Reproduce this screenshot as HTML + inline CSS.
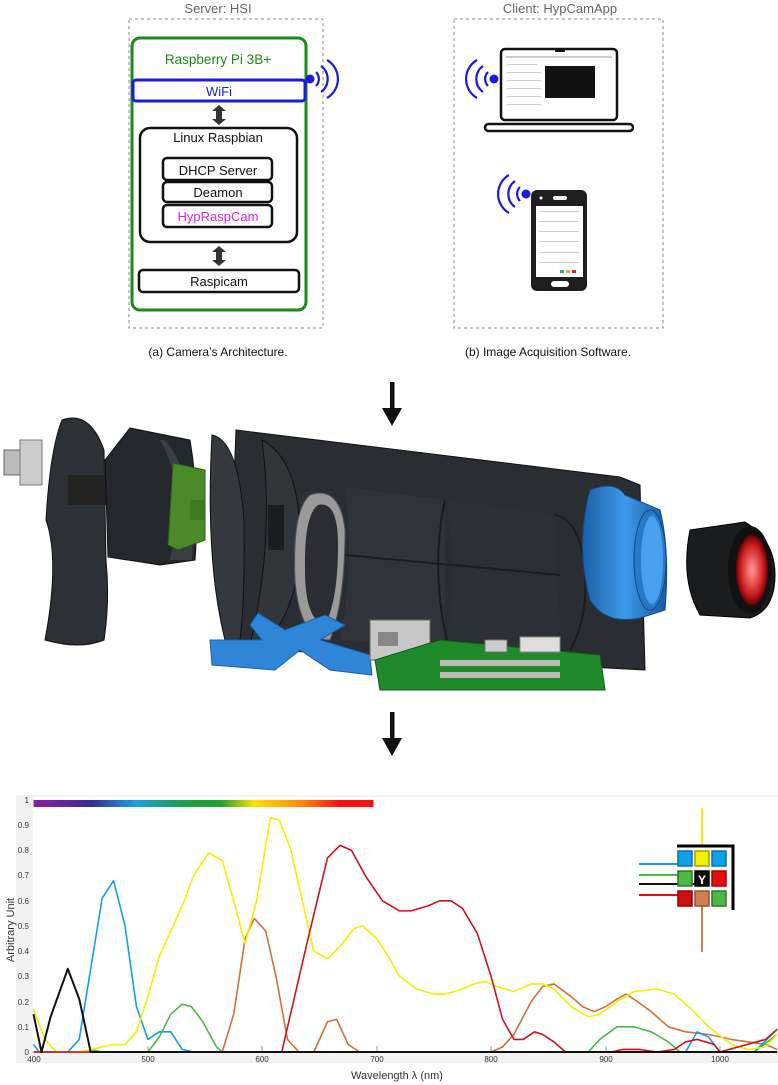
<!DOCTYPE html>
<html><head><meta charset="utf-8"><style>
html,body{margin:0;padding:0;background:#fff;}
svg{display:block;font-family:"Liberation Sans","DejaVu Sans",sans-serif;}
</style></head><body>
<svg width="778" height="1085" viewBox="0 0 778 1085" xmlns="http://www.w3.org/2000/svg">
<defs>
<linearGradient id="spec" x1="0" x2="1" y1="0" y2="0">
<stop offset="0" stop-color="#8a1fa0"/><stop offset="0.17" stop-color="#3a2a9a"/><stop offset="0.3" stop-color="#1aa0e0"/><stop offset="0.45" stop-color="#1aa040"/><stop offset="0.55" stop-color="#20a030"/><stop offset="0.65" stop-color="#ffe000"/><stop offset="0.8" stop-color="#ff8000"/><stop offset="0.9" stop-color="#ff1010"/><stop offset="1" stop-color="#ff1010"/>
</linearGradient>
<linearGradient id="blueT" x1="0" x2="1"><stop offset="0" stop-color="#1c5fa8"/><stop offset="0.5" stop-color="#3c9ae8"/><stop offset="1" stop-color="#1a5aa0"/></linearGradient>
<radialGradient id="redL"><stop offset="0" stop-color="#ff9a9a"/><stop offset="0.7" stop-color="#d02020"/><stop offset="1" stop-color="#600"/></radialGradient>
</defs>

<!-- ===== TOP DIAGRAM ===== -->
<text x="218" y="13" font-size="13" fill="#666" text-anchor="middle">Server: HSI</text>
<rect x="129" y="19" width="194" height="309" fill="none" stroke="#888" stroke-width="1" stroke-dasharray="3,3"/>
<rect x="132" y="38" width="174" height="272" rx="8" fill="none" stroke="#1a8a1a" stroke-width="3"/>
<text x="218" y="64" font-size="13.5" fill="#1a8a1a" text-anchor="middle">Raspberry Pi 3B+</text>
<rect x="133" y="80" width="172" height="21" rx="3" fill="#fff" stroke="#1a1add" stroke-width="3"/>
<text x="219" y="96" font-size="13" fill="#1a1add" text-anchor="middle">WiFi</text>
<circle cx="310" cy="79" r="4.5" fill="#1a1add"/>
<g fill="none" stroke="#1a1add" stroke-width="2.2">
<path d="M316 72 A10 10 0 0 1 316 86"/><path d="M321 66 A16 16 0 0 1 321 92"/><path d="M327 60 A22 22 0 0 1 327 98"/>
</g>
<g fill="#333">
<path d="M219 105 l-7 6 h4 v8 h-4 l7 6 l7 -6 h-4 v-8 h4 z"/>
<path d="M219 246 l-7 6 h4 v8 h-4 l7 6 l7 -6 h-4 v-8 h4 z"/>
</g>
<rect x="140" y="128" width="157" height="114" rx="10" fill="none" stroke="#111" stroke-width="2.5"/>
<text x="218" y="142" font-size="13" fill="#111" text-anchor="middle">Linux Raspbian</text>
<rect x="163" y="158" width="109" height="22" rx="4" fill="none" stroke="#111" stroke-width="2.5"/>
<text x="218" y="175" font-size="13" fill="#111" text-anchor="middle">DHCP Server</text>
<rect x="163" y="182" width="109" height="20" rx="4" fill="none" stroke="#111" stroke-width="2.5"/>
<text x="218" y="197" font-size="13" fill="#111" text-anchor="middle">Deamon</text>
<rect x="163" y="205" width="109" height="22" rx="4" fill="none" stroke="#111" stroke-width="2.5"/>
<text x="218" y="221" font-size="13" fill="#e020e0" text-anchor="middle">HypRaspCam</text>
<rect x="139" y="270" width="160" height="22" rx="4" fill="none" stroke="#111" stroke-width="2.5"/>
<text x="219" y="286" font-size="13" fill="#111" text-anchor="middle">Raspicam</text>
<text x="218" y="356" font-size="12" fill="#111" text-anchor="middle">(a) Camera’s Architecture.</text>

<text x="560" y="13" font-size="13" fill="#666" text-anchor="middle">Client: HypCamApp</text>
<rect x="454" y="19" width="209" height="309" fill="none" stroke="#888" stroke-width="1" stroke-dasharray="3,3"/>
<rect x="501" y="49" width="116" height="71" rx="4" fill="#fff" stroke="#111" stroke-width="2.5"/>
<rect x="555" y="48" width="10" height="4" rx="1" fill="#111"/>
<rect x="545" y="66" width="50" height="32" fill="#111"/>
<g fill="#ccc"><rect x="506" y="56" width="106" height="2"/><rect x="507" y="64" width="30" height="1"/><rect x="507" y="72" width="34" height="1"/><rect x="507" y="80" width="34" height="1"/><rect x="507" y="88" width="34" height="1"/><rect x="507" y="96" width="34" height="1"/><rect x="507" y="104" width="34" height="1"/></g>
<rect x="485" y="124" width="148" height="7" rx="3.5" fill="#fff" stroke="#111" stroke-width="2.5"/>
<circle cx="494" cy="79" r="4.5" fill="#1a1add"/>
<g fill="none" stroke="#1a1add" stroke-width="2.2">
<path d="M488 72 A10 10 0 0 0 488 86"/><path d="M483 66 A16 16 0 0 0 483 92"/><path d="M477 60 A22 22 0 0 0 477 98"/>
</g>
<rect x="531" y="190" width="56" height="101" rx="6" fill="#1e1e1e"/>
<rect x="536" y="206" width="47" height="71" fill="#fff"/>
<rect x="553" y="196" width="14" height="4" rx="2" fill="#fff"/>
<circle cx="541" cy="198" r="1.5" fill="#fff"/>
<rect x="551" y="281" width="18" height="6" rx="3" fill="#fff"/>
<g fill="#ccc"><rect x="539" y="211" width="40" height="1"/><rect x="539" y="221" width="40" height="1"/><rect x="539" y="231" width="40" height="1"/><rect x="539" y="241" width="40" height="1"/><rect x="539" y="252" width="40" height="1"/><rect x="539" y="262" width="40" height="1"/></g>
<rect x="572" y="270" width="4" height="3" fill="#d22"/><rect x="566" y="270" width="4" height="3" fill="#e0b020"/><rect x="560" y="270" width="4" height="3" fill="#3a8"/>
<circle cx="526" cy="194" r="4.5" fill="#1a1add"/>
<g fill="none" stroke="#1a1add" stroke-width="2.2">
<path d="M520 187 A10 10 0 0 0 520 201"/><path d="M515 181 A16 16 0 0 0 515 207"/><path d="M509 175 A22 22 0 0 0 509 213"/>
</g>
<text x="548" y="356" font-size="12" fill="#111" text-anchor="middle">(b) Image Acquisition Software.</text>

<g fill="#111">
<rect x="390" y="382" width="4.5" height="30"/><path d="M382 408 l10 18 l10 -18 z"/>
<rect x="390" y="712" width="4.5" height="30"/><path d="M382 738 l10 18 l10 -18 z"/>
</g>

<!-- ===== CAMERA ===== -->
<rect x="4" y="450" width="24" height="25" fill="#bbb" stroke="#666"/>
<rect x="20" y="440" width="22" height="45" fill="#ccc" stroke="#777"/>
<path d="M62 420 Q90 410 104 450 L106 560 Q110 600 104 640 Q80 650 45 640 Q60 560 46 520 Q50 450 62 420 Z" fill="#2d3034" stroke="#111"/>
<rect x="68" y="475" width="40" height="30" fill="#222"/>
<path d="M130 428 L190 440 Q200 500 195 560 L160 565 L108 557 L105 460 Z" fill="#24272b" stroke="#111"/>
<path d="M165 440 Q198 480 192 560 L170 560 Q185 480 160 440 Z" fill="#3a3d42"/>
<path d="M173 463 L205 470 L205 540 L178 550 L168 545 Z" fill="#4a8a2a" stroke="#2a5a15"/>
<rect x="190" y="500" width="14" height="20" fill="#3c7a22"/>
<path d="M236 430 L620 477 L640 485 L645 670 L270 650 L240 640 L230 580 Z" fill="#2a2d31" stroke="#111"/>
<path d="M212 435 Q238 440 244 520 Q245 600 240 640 L225 640 Q205 560 212 435 Z" fill="#35383c" stroke="#111"/>
<path d="M262 440 Q300 460 300 540 Q300 610 260 650 L250 645 Q275 540 262 440 Z" fill="#333639" stroke="#111"/>
<path d="M300 495 Q330 480 340 520 Q345 590 320 645 L300 640 Z" fill="#2e3135"/>
<rect x="268" y="505" width="16" height="45" fill="#1b1d20"/>
<path d="M310 495 Q340 485 345 530 Q345 600 330 640 Q300 640 295 580 Q292 510 310 495 Z" fill="#9a9a9a" stroke="#555"/>
<path d="M318 505 Q338 500 338 545 Q338 600 325 625 Q305 620 305 570 Q304 515 318 505 Z" fill="#2a2d31"/>
<path d="M345 487 L445 500 L445 645 L340 640 Q355 560 345 487 Z" fill="#303337"/>
<path d="M445 500 L555 515 L560 650 L445 645 Q460 570 445 500 Z" fill="#2c2f33"/>
<path d="M345 555 L560 575" stroke="#1a1c1f" stroke-width="2"/>
<path d="M445 500 Q430 570 448 645" fill="none" stroke="#1a1c1f" stroke-width="2"/>
<path d="M555 515 Q580 520 585 570 Q588 620 570 650" fill="none" stroke="#1a1c1f" stroke-width="2"/>
<path d="M590 490 Q615 480 625 495 L660 510 Q670 550 665 610 L640 618 Q605 625 590 600 Q575 545 590 490 Z" fill="url(#blueT)" stroke="#114a88"/>
<ellipse cx="650" cy="560" rx="16" ry="50" fill="#2a78c8" stroke="#114a88"/>
<ellipse cx="652" cy="560" rx="11" ry="44" fill="#4aa0ee"/>
<path d="M690 530 L745 522 Q775 540 775 575 Q775 610 750 618 L700 615 Q680 580 690 530 Z" fill="#1b1c1e" stroke="#000"/>
<ellipse cx="750" cy="570" rx="22" ry="44" fill="#111"/>
<ellipse cx="752" cy="570" rx="16" ry="35" fill="url(#redL)"/>
<path d="M258 613 L285 630 L325 615 L345 625 L320 640 L370 655 L372 675 L330 670 L300 650 L275 670 L212 665 L210 640 L262 640 L250 625 Z" fill="#2f86d8" stroke="#1560a8"/>
<rect x="370" y="620" width="60" height="40" fill="#c8c8c8" stroke="#666"/>
<rect x="378" y="632" width="20" height="14" fill="#888"/>
<path d="M375 660 L440 640 L600 655 L605 690 L380 690 Z" fill="#1e8a2a" stroke="#0e5a18"/>
<g fill="#bbb"><rect x="440" y="660" width="120" height="6"/><rect x="440" y="672" width="120" height="6"/></g>
<rect x="485" y="640" width="22" height="12" fill="#ccc" stroke="#777"/>
<rect x="520" y="637" width="40" height="15" fill="#ddd" stroke="#888"/>

<!-- ===== CHART ===== -->
<rect x="16" y="795" width="762" height="268" fill="#f2f2f2"/>
<rect x="33" y="797" width="745" height="255" fill="#fff"/>
<rect x="33.5" y="800" width="340" height="7" fill="url(#spec)"/>
<g font-size="8" fill="#333" text-anchor="end">
<text x="29" y="1055">0</text><text x="29" y="1030">0.1</text><text x="29" y="1005">0.2</text><text x="29" y="979">0.3</text><text x="29" y="954">0.4</text><text x="29" y="929">0.5</text><text x="29" y="904">0.6</text><text x="29" y="878">0.7</text><text x="29" y="853">0.8</text><text x="29" y="828">0.9</text><text x="29" y="803">1</text>
</g>
<g font-size="8" fill="#333" text-anchor="middle">
<text x="34" y="1062">400</text><text x="148" y="1062">500</text><text x="262" y="1062">600</text><text x="377" y="1062">700</text><text x="491" y="1062">800</text><text x="606" y="1062">900</text><text x="720" y="1062">1000</text>
</g>
<g stroke="#999" stroke-width="1"><path d="M148 1052v-6M262 1052v-6M377 1052v-6M491 1052v-6M606 1052v-6M720 1052v-6"/></g>
<text x="397" y="1079" font-size="11" fill="#333" text-anchor="middle">Wavelength λ (nm)</text>
<text transform="translate(14,930) rotate(-90)" font-size="11" fill="#333" text-anchor="middle">Arbitrary Unit</text>

<g transform="translate(33.5,1052) scale(1.144,-252)" fill="none" stroke-width="1.6" stroke-linejoin="round">
<polyline vector-effect="non-scaling-stroke" stroke="#d0703a" points="0,0 165,0 175,0.15 185,0.45 193,0.53 203,0.48 212,0.3 222,0.05 232,0 245,0 257,0.12 265,0.13 275,0.03 285,0 400,0 410,0.02 420,0.07 435,0.2 445,0.26 455,0.27 470,0.22 480,0.18 490,0.16 500,0.18 510,0.21 518,0.23 528,0.2 540,0.16 555,0.1 570,0.08 590,0.07 610,0.05 625,0.04 640,0.03 650,0.01"/>
<polyline vector-effect="non-scaling-stroke" stroke="#4cb848" points="0,0 45,0 50,0.01 60,0 100,0 110,0.06 120,0.15 130,0.19 138,0.18 148,0.12 160,0.02 165,0 485,0 495,0.05 510,0.1 525,0.1 540,0.08 555,0.04 565,0 630,0 650,0.07"/>
<polyline vector-effect="non-scaling-stroke" stroke="#10a0e8" points="0,0.03 5,0 30,0 40,0.05 60,0.61 70,0.68 80,0.5 90,0.18 100,0.05 110,0.08 120,0.08 130,0.01 140,0 570,0 580,0.08 590,0.06 600,0 630,0 650,0.09"/>
<polyline vector-effect="non-scaling-stroke" stroke="#f0f000" points="0,0.17 10,0.05 20,0 40,0 50,0.01 60,0.02 70,0.03 80,0.03 90,0.08 100,0.22 110,0.38 120,0.48 130,0.58 140,0.7 153,0.79 165,0.76 175,0.6 185,0.43 195,0.6 207,0.93 215,0.92 225,0.8 235,0.6 245,0.4 257,0.37 270,0.43 280,0.49 288,0.5 300,0.45 310,0.38 320,0.3 335,0.25 350,0.23 360,0.23 375,0.25 385,0.27 395,0.28 405,0.26 420,0.24 435,0.27 445,0.27 455,0.25 470,0.18 485,0.14 495,0.15 510,0.2 525,0.24 545,0.25 560,0.23 575,0.17 590,0.1 610,0.03 625,0.01 640,0.02 650,0.07"/>
<polyline vector-effect="non-scaling-stroke" stroke="#d01020" points="0,0 217,0 240,0.45 257,0.77 268,0.82 278,0.8 290,0.7 305,0.6 320,0.56 330,0.56 345,0.58 355,0.6 365,0.6 375,0.57 388,0.47 400,0.3 410,0.13 420,0.05 428,0.05 438,0.08 445,0.07 455,0.04 465,0 505,0 515,0.01 530,0.01 545,0 560,0.01 570,0.04 580,0.05 595,0.03 600,0 640,0.05 650,0.09"/>
<polyline vector-effect="non-scaling-stroke" stroke="#111" stroke-width="2" points="0,0.15 7,0 15,0.14 30,0.33 40,0.21 50,0 650,0"/>
</g>

<g stroke-width="2">
<line x1="702" y1="808" x2="702" y2="845" stroke="#f0f000"/>
<line x1="702" y1="905" x2="702" y2="952" stroke="#d08050"/>
<line x1="639" y1="864" x2="678" y2="864" stroke="#10a0e8"/>
<line x1="639" y1="875" x2="678" y2="875" stroke="#4cb848"/>
<line x1="639" y1="884" x2="698" y2="884" stroke="#111"/>
<line x1="639" y1="895" x2="678" y2="895" stroke="#e01010"/>
</g>
<path d="M677 846 H733 V910" fill="none" stroke="#000" stroke-width="3"/>
<g stroke-width="1.5">
<rect x="678" y="851" width="14" height="15" fill="#10a0e8" stroke="#0a70b0"/>
<rect x="695" y="851" width="14" height="15" fill="#f0f000" stroke="#a0a000"/>
<rect x="712" y="851" width="14" height="15" fill="#10a0e8" stroke="#0a70b0"/>
<rect x="678" y="871" width="14" height="15" fill="#4cb848" stroke="#2a7a28"/>
<rect x="695" y="871" width="14" height="15" fill="#111" stroke="#000"/>
<rect x="712" y="871" width="14" height="15" fill="#e01010" stroke="#a00"/>
<rect x="678" y="891" width="14" height="15" fill="#d01010" stroke="#900"/>
<rect x="695" y="891" width="14" height="15" fill="#d08050" stroke="#905030"/>
<rect x="712" y="891" width="14" height="15" fill="#4cb848" stroke="#2a7a28"/>
</g>
<text x="702" y="884" font-size="12" font-weight="bold" fill="#fff" text-anchor="middle">Y</text>
</svg>
</body></html>
